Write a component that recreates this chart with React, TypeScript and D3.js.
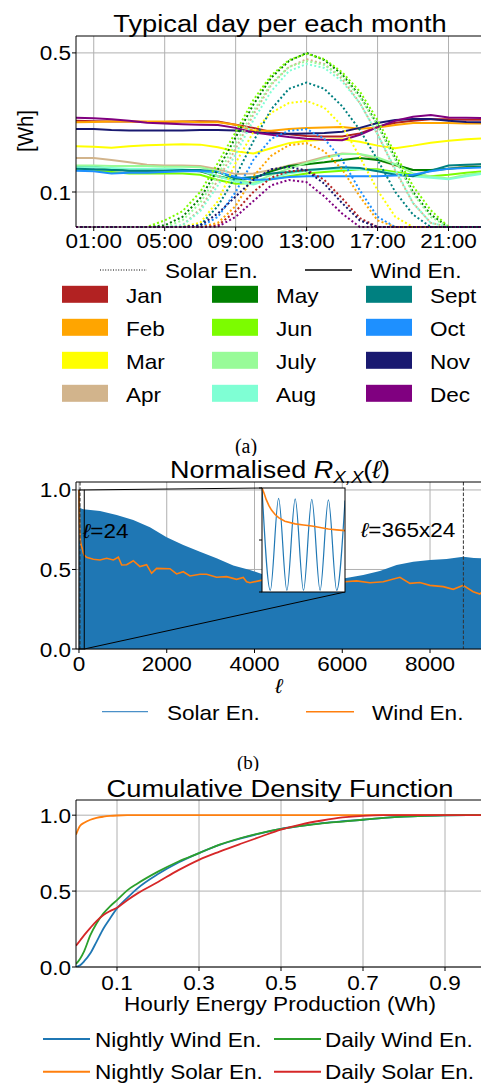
import React from 'react';
import * as d3 from 'd3';

const FONT = "'Liberation Sans', Arial, Helvetica, sans-serif";
const SX = 1.1; // the source figure is slightly stretched horizontally
const GRID = '#b0b0b0';

// ---------- (a) typical day per each month ----------
const hours = [0, 1, 2, 3, 4, 5, 6, 7, 8, 9, 10, 11, 12, 13, 14, 15, 16, 17, 18, 19, 20, 21, 22, 23];
const hourTicks = [1, 5, 9, 13, 17, 21];
const hourLabels = ['01:00', '05:00', '09:00', '13:00', '17:00', '21:00'];
const whTicks = [0.1, 0.5];

const months = ['Jan', 'Feb', 'Mar', 'Apr', 'May', 'Jun', 'July', 'Aug', 'Sept', 'Oct', 'Nov', 'Dec'];
const monthColors = ['#b22222', '#ffa500', '#ffff00', '#d2b48c', '#008000', '#7cfc00',
  '#98fb98', '#7fffd4', '#008080', '#1e90ff', '#191970', '#800080'];

const windJan = [0.228, 0.227, 0.226, 0.226, 0.225, 0.225, 0.226, 0.227, 0.226, 0.218, 0.21, 0.2, 0.195, 0.191, 0.19, 0.19, 0.197, 0.212, 0.223, 0.228, 0.232, 0.232, 0.231, 0.231];
const windFeb = [0.224, 0.225, 0.226, 0.226, 0.226, 0.226, 0.226, 0.224, 0.224, 0.218, 0.203, 0.203, 0.207, 0.21, 0.211, 0.212, 0.208, 0.211, 0.217, 0.222, 0.222, 0.222, 0.221, 0.221];
const windMar = [0.17, 0.169, 0.167, 0.17, 0.172, 0.173, 0.174, 0.173, 0.168, 0.16, 0.156, 0.166, 0.176, 0.181, 0.183, 0.184, 0.179, 0.171, 0.166, 0.171, 0.177, 0.181, 0.184, 0.186];
const windApr = [0.148, 0.148, 0.145, 0.141, 0.137, 0.136, 0.136, 0.135, 0.13, 0.123, 0.124, 0.129, 0.136, 0.142, 0.15, 0.156, 0.155, 0.145, 0.136, 0.129, 0.128, 0.131, 0.135, 0.139];
const windMay = [0.135, 0.134, 0.131, 0.128, 0.128, 0.128, 0.129, 0.127, 0.12, 0.115, 0.117, 0.127, 0.135, 0.138, 0.141, 0.145, 0.148, 0.145, 0.137, 0.129, 0.129, 0.131, 0.133, 0.134];
const windJun = [0.129, 0.128, 0.126, 0.124, 0.124, 0.124, 0.124, 0.122, 0.115, 0.11, 0.111, 0.116, 0.12, 0.124, 0.126, 0.128, 0.13, 0.13, 0.126, 0.122, 0.12, 0.122, 0.125, 0.127];
const windJul = [0.136, 0.136, 0.135, 0.135, 0.135, 0.134, 0.134, 0.133, 0.127, 0.115, 0.111, 0.122, 0.131, 0.14, 0.148, 0.155, 0.155, 0.149, 0.138, 0.124, 0.12, 0.117, 0.122, 0.125];
const windAug = [0.133, 0.133, 0.132, 0.131, 0.131, 0.131, 0.13, 0.128, 0.12, 0.113, 0.109, 0.117, 0.124, 0.128, 0.13, 0.131, 0.13, 0.128, 0.124, 0.12, 0.118, 0.116, 0.12, 0.124];
const windSep = [0.131, 0.13, 0.129, 0.128, 0.128, 0.128, 0.129, 0.129, 0.126, 0.117, 0.119, 0.124, 0.126, 0.129, 0.131, 0.133, 0.132, 0.127, 0.122, 0.12, 0.128, 0.136, 0.137, 0.138];
const windOct = [0.128, 0.127, 0.124, 0.125, 0.125, 0.126, 0.127, 0.127, 0.126, 0.119, 0.115, 0.116, 0.119, 0.12, 0.12, 0.12, 0.12, 0.12, 0.121, 0.122, 0.127, 0.131, 0.132, 0.133];
const windNov = [0.207, 0.207, 0.205, 0.204, 0.204, 0.204, 0.204, 0.205, 0.205, 0.204, 0.2, 0.197, 0.196, 0.197, 0.198, 0.201, 0.21, 0.222, 0.23, 0.233, 0.233, 0.228, 0.225, 0.224];
const windDec = [0.236, 0.235, 0.232, 0.228, 0.223, 0.221, 0.219, 0.218, 0.217, 0.21, 0.199, 0.194, 0.189, 0.185, 0.183, 0.182, 0.194, 0.212, 0.228, 0.239, 0.244, 0.237, 0.236, 0.235];

const solarJan = [0, 0, 0, 0, 0, 0, 0, 0, 0.068, 0.08, 0.1, 0.118, 0.127, 0.129, 0.115, 0.093, 0.074, 0, 0, 0, 0, 0, 0, 0];
const solarFeb = [0, 0, 0, 0, 0, 0, 0, 0, 0.07, 0.085, 0.12, 0.152, 0.172, 0.176, 0.16, 0.13, 0.095, 0.072, 0, 0, 0, 0, 0, 0];
const solarMar = [0, 0, 0, 0, 0, 0, 0, 0.07, 0.09, 0.14, 0.2, 0.25, 0.28, 0.287, 0.265, 0.215, 0.15, 0.102, 0.075, 0, 0, 0, 0, 0];
const solarApr = [0, 0, 0, 0, 0, 0, 0.068, 0.082, 0.115, 0.165, 0.245, 0.345, 0.425, 0.465, 0.44, 0.37, 0.28, 0.195, 0.128, 0.088, 0.07, 0, 0, 0];
const solarMay = [0, 0, 0, 0, 0, 0.068, 0.075, 0.093, 0.13, 0.188, 0.275, 0.375, 0.455, 0.5, 0.46, 0.39, 0.305, 0.218, 0.148, 0.1, 0.077, 0, 0, 0];
const solarJun = [0, 0, 0, 0, 0, 0.072, 0.08, 0.1, 0.14, 0.2, 0.29, 0.385, 0.46, 0.495, 0.465, 0.4, 0.32, 0.23, 0.155, 0.107, 0.081, 0, 0, 0];
const solarJul = [0, 0, 0, 0, 0, 0, 0.072, 0.088, 0.122, 0.175, 0.255, 0.35, 0.425, 0.455, 0.435, 0.38, 0.3, 0.215, 0.145, 0.098, 0.075, 0, 0, 0];
const solarAug = [0, 0, 0, 0, 0, 0, 0.068, 0.08, 0.108, 0.155, 0.23, 0.32, 0.405, 0.44, 0.42, 0.36, 0.28, 0.195, 0.13, 0.088, 0.07, 0, 0, 0];
const solarSep = [0, 0, 0, 0, 0, 0, 0, 0.068, 0.085, 0.12, 0.18, 0.26, 0.33, 0.355, 0.33, 0.27, 0.205, 0.145, 0.1, 0.077, 0, 0, 0, 0];
const solarOct = [0, 0, 0, 0, 0, 0, 0, 0, 0.075, 0.1, 0.145, 0.185, 0.203, 0.207, 0.185, 0.145, 0.102, 0.075, 0, 0, 0, 0, 0, 0];
const solarNov = [0, 0, 0, 0, 0, 0, 0, 0.068, 0.078, 0.095, 0.115, 0.13, 0.134, 0.128, 0.11, 0.088, 0.072, 0, 0, 0, 0, 0, 0, 0];
const solarDec = [0, 0, 0, 0, 0, 0, 0, 0, 0.067, 0.075, 0.09, 0.108, 0.115, 0.112, 0.095, 0.078, 0, 0, 0, 0, 0, 0, 0, 0];

const windByMonth = [windJan, windFeb, windMar, windApr, windMay, windJun, windJul, windAug, windSep, windOct, windNov, windDec];
const solarByMonth = [solarJan, solarFeb, solarMar, solarApr, solarMay, solarJun, solarJul, solarAug, solarSep, solarOct, solarNov, solarDec];

// ---------- (b) normalised autocorrelation ----------
const lagTicks = [0, 2000, 4000, 6000, 8000];
const acfTicks = [0, 0.5, 1.0];
const solarLag = [0, 10, 24, 40, 97, 479, 859, 1237, 1617, 1997, 2377, 2757, 3136, 3516, 3896, 4232, 4700, 5200, 5700, 6060, 6478, 6858, 7238, 7618, 7997, 8377, 8756, 9000, 9230];
const solarEnv = [1.0, 0.95, 0.9, 0.885, 0.879, 0.868, 0.843, 0.811, 0.765, 0.702, 0.654, 0.612, 0.57, 0.525, 0.497, 0.465, 0.455, 0.448, 0.445, 0.445, 0.465, 0.49, 0.528, 0.549, 0.56, 0.566, 0.58, 0.572, 0.57];
const windLag = [0, 3, 6, 10, 14, 19, 24, 33, 48, 60, 72, 84, 96, 108, 120, 173, 327, 479, 631, 783, 897, 973, 1087, 1237, 1389, 1541, 1655, 1769, 2073, 2225, 2377, 2529, 2757, 2909, 3136, 3364, 3592, 3744, 3820, 3896, 4232, 4700, 5200, 5700, 6060, 6326, 6630, 6934, 7314, 7542, 7769, 7997, 8301, 8529, 8756, 8984, 9136, 9230];
const windAcf = [1.0, 0.95, 0.89, 0.83, 0.785, 0.745, 0.715, 0.68, 0.655, 0.645, 0.635, 0.62, 0.605, 0.597, 0.59, 0.577, 0.564, 0.56, 0.57, 0.56, 0.577, 0.528, 0.53, 0.555, 0.518, 0.53, 0.476, 0.507, 0.505, 0.472, 0.486, 0.459, 0.47, 0.47, 0.451, 0.455, 0.438, 0.45, 0.423, 0.417, 0.436, 0.43, 0.425, 0.43, 0.423, 0.428, 0.417, 0.423, 0.451, 0.413, 0.418, 0.40, 0.392, 0.375, 0.40, 0.36, 0.346, 0.371];
const insetLag = [0, 12, 24, 36, 48, 60, 72, 84, 96, 108, 120];
const insetSolar = [1.0, 0.015, 0.9, 0.015, 0.895, 0.015, 0.89, 0.015, 0.885, 0.015, 0.88];
const markLags = [24, 8760];

// ---------- (c) cumulative density function ----------
const cdfTicksX = [0.1, 0.3, 0.5, 0.7, 0.9];
const cdfTicksY = [0, 0.5, 1.0];
const cdfX = [0, 0.01, 0.02, 0.035, 0.05, 0.067, 0.083, 0.1, 0.125, 0.15, 0.2, 0.25, 0.3, 0.35, 0.4, 0.45, 0.5, 0.55, 0.6, 0.65, 0.7, 0.75, 0.8, 0.85, 0.9, 1.0];
const cdfNightWind = [0, 0.012, 0.038, 0.09, 0.166, 0.254, 0.32, 0.386, 0.455, 0.518, 0.612, 0.688, 0.75, 0.804, 0.845, 0.88, 0.91, 0.93, 0.948, 0.96, 0.97, 0.982, 0.991, 0.996, 0.999, 1.0];
const cdfNightSolar = [0.872, 0.93, 0.95, 0.97, 0.982, 0.99, 0.995, 0.998, 1, 1, 1, 1, 1, 1, 1, 1, 1, 1, 1, 1, 1, 1, 1, 1, 1, 1];
const cdfDayWind = [0.02, 0.055, 0.105, 0.21, 0.287, 0.353, 0.4, 0.441, 0.505, 0.55, 0.628, 0.695, 0.75, 0.806, 0.848, 0.882, 0.91, 0.93, 0.946, 0.958, 0.97, 0.982, 0.991, 0.996, 0.999, 1.0];
const cdfDaySolar = [0.14, 0.175, 0.21, 0.258, 0.302, 0.342, 0.368, 0.39, 0.44, 0.485, 0.56, 0.638, 0.706, 0.76, 0.81, 0.858, 0.905, 0.94, 0.965, 0.985, 0.996, 1, 1, 1, 1, 1];
const cdfSeries = [
  { label: 'Nightly Wind En.', color: '#1f77b4', values: cdfNightWind },
  { label: 'Nightly Solar En.', color: '#ff7f0e', values: cdfNightSolar },
  { label: 'Daily Wind En.', color: '#2ca02c', values: cdfDayWind },
  { label: 'Daily Solar En.', color: '#d62728', values: cdfDaySolar },
];

const Txt = ({ x, y, anchor = 'start', size = 20.5, italic = false, family = FONT, children }: any) => (
  <text transform={`translate(${x},${y}) scale(${SX},1)`} textAnchor={anchor} fontSize={size}
    fontFamily={family} fontStyle={italic ? 'italic' : 'normal'} fill="#000">{children}</text>
);

const App = () => {
  const W = 481, H = 1083;
  const L = 76, R = 486;

  // panel a
  const aTop = 36, aBot = 227;
  const xA = d3.scaleLinear().domain([0, 23]).range([L, 484]);
  const yA = d3.scaleLog().domain([0.0667, 0.608]).range([aBot, aTop]).clamp(true);
  const lineA = d3.line<number>().x((_, i) => xA(hours[i])).y(d => yA(d));

  // panel b
  const bTop = 482, bBot = 649;
  const xB = d3.scaleLinear().domain([-68, 9230]).range([L, 484]);
  const yB = d3.scaleLinear().domain([0, 1.05]).range([bBot, bTop]);
  const areaB = d3.area<number>().x((_, i) => xB(solarLag[i])).y0(bBot).y1(d => yB(d));
  const lineWindB = d3.line<number>().x((_, i) => xB(windLag[i])).y(d => yB(d));
  const inset = { x0: 262, x1: 345, y0: 488, y1: 592 };
  const xI = d3.scaleLinear().domain([0, 120]).range([inset.x0, inset.x1]);
  const yI = d3.scaleLinear().domain([0, 1]).range([inset.y1, inset.y0]);
  const lineInsetSolar = d3.line<number>().x((_, i) => xI(insetLag[i])).y(d => yI(d)).curve(d3.curveMonotoneX);
  const insetWind = windLag.map((l, i) => [l, windAcf[i]] as [number, number]).filter(d => d[0] <= 120);
  const lineInsetWind = d3.line<[number, number]>().x(d => xI(d[0])).y(d => yI(d[1]));

  // panel c
  const cTop = 800, cBot = 967;
  const xC = d3.scaleLinear().domain([0, 1]).range([L, R]);
  const yC = d3.scaleLinear().domain([0, 1.1]).range([cBot, cTop]);
  const lineC = d3.line<number>().x((_, i) => xC(cdfX[i])).y(d => yC(d)).curve(d3.curveMonotoneX);

  const spine = (top: number, bot: number) => (
    <g stroke="#000" strokeWidth={1} fill="none">
      <line x1={L} x2={L} y1={top} y2={bot} />
      <line x1={L} x2={R} y1={top} y2={top} />
      <line x1={L} x2={R} y1={bot} y2={bot} />
    </g>
  );

  return (
    <svg width={W} height={H} style={{ position: 'absolute', left: 0, top: 0, background: '#fff' }}>
      <defs>
        <clipPath id="clipA"><rect x={L} y={aTop} width={R - L} height={aBot - aTop + 1} /></clipPath>
        <clipPath id="clipB"><rect x={L} y={bTop} width={R - L} height={bBot - bTop} /></clipPath>
        <clipPath id="clipI"><rect x={inset.x0} y={inset.y0} width={inset.x1 - inset.x0} height={inset.y1 - inset.y0} /></clipPath>
        <clipPath id="clipC"><rect x={L} y={cTop} width={R - L} height={cBot - cTop} /></clipPath>
        <clipPath id="capA"><rect x={0} y={420} width={W} height={36} /></clipPath>
        <clipPath id="capB"><rect x={0} y={740} width={W} height={31} /></clipPath>
      </defs>
      <rect width={W} height={H} fill="#fff" />

      {/* ---------- panel (a) ---------- */}
      <Txt x={280} y={31.5} anchor="middle" size={24.8}>Typical day per each month</Txt>
      <g stroke={GRID} strokeWidth={1}>
        {hourTicks.map(t => <line key={t} x1={xA(t)} x2={xA(t)} y1={aTop} y2={aBot} />)}
        {whTicks.map(t => <line key={t} x1={L} x2={R} y1={yA(t)} y2={yA(t)} />)}
      </g>
      <g clipPath="url(#clipA)" fill="none">
        {windByMonth.map((w, i) => (
          <path key={'w' + i} d={lineA(w) || ''} stroke={monthColors[i]} strokeWidth={2} />
        ))}
        {solarByMonth.map((s, i) => (
          <path key={'s' + i} d={lineA(s) || ''} stroke={monthColors[i]} strokeWidth={2} strokeDasharray="2 2.3" />
        ))}
      </g>
      {spine(aTop, aBot)}
      <g stroke="#000" strokeWidth={1}>
        {hourTicks.map(t => <line key={t} x1={xA(t)} x2={xA(t)} y1={aBot} y2={aBot + 4} />)}
        {whTicks.map(t => <line key={t} x1={L - 4} x2={L} y1={yA(t)} y2={yA(t)} />)}
      </g>
      {hourTicks.map((t, i) => <Txt key={t} x={xA(t)} y={248} anchor="middle">{hourLabels[i]}</Txt>)}
      {whTicks.map(t => <Txt key={t} x={71} y={yA(t) + 7.5} anchor="end">{String(t)}</Txt>)}
      <text transform="translate(33,131) rotate(-90) scale(1,1.1)" textAnchor="middle" fontSize={20.5} fontFamily={FONT}>[Wh]</text>

      {/* legend (a) */}
      <line x1={100} x2={147} y1={270} y2={270} stroke="#000" strokeWidth={1.2} strokeDasharray="1 1.6" />
      <Txt x={165} y={278}>Solar En.</Txt>
      <line x1={305} x2={352} y1={270} y2={270} stroke="#000" strokeWidth={1.5} />
      <Txt x={370} y={278}>Wind En.</Txt>
      {months.map((m, i) => {
        const col = Math.floor(i / 4), row = i % 4;
        const px = [62, 212, 366][col], tx = [126, 276, 430][col];
        const cy = 294.3 + row * 33;
        return (
          <g key={m}>
            <rect x={px} y={cy - 8.5} width={46} height={17} fill={monthColors[i]} />
            <Txt x={tx} y={cy + 8.5}>{m}</Txt>
          </g>
        );
      })}
      <g clipPath="url(#capA)">
        <text x={246} y={453} textAnchor="middle" fontSize={20} fontFamily="'Liberation Serif', 'DejaVu Serif', serif">(a)</text>
      </g>

      {/* ---------- panel (b) ---------- */}
      <text transform="translate(280,478) scale(1.1,1)" textAnchor="middle" fontSize={24.5} fontFamily={FONT}>
        {'Normalised '}<tspan fontStyle="italic">R</tspan><tspan fontStyle="italic" fontSize={17} dy={5}>X,X</tspan><tspan dy={-5}>(</tspan><tspan fontStyle="italic">ℓ</tspan>)
      </text>
      <g stroke={GRID} strokeWidth={1}>
        {lagTicks.map(t => <line key={t} x1={xB(t)} x2={xB(t)} y1={bTop} y2={bBot} />)}
        {acfTicks.map(t => <line key={t} x1={L} x2={R} y1={yB(t)} y2={yB(t)} />)}
      </g>
      <g clipPath="url(#clipB)">
        <path d={areaB(solarEnv) || ''} fill="#1f77b4" />
        <path d={lineWindB(windAcf) || ''} fill="none" stroke="#ff7f0e" strokeWidth={1.6} />
        {markLags.map(l => (
          <line key={l} x1={xB(l)} x2={xB(l)} y1={bTop} y2={bBot} stroke="#333" strokeWidth={1} strokeDasharray="3.5 1.8" />
        ))}
      </g>
      {/* zoom indicator and connectors */}
      <g stroke="#000" strokeWidth={1} fill="none">
        <rect x={xB(0)} y={yB(1)} width={xB(120) - xB(0)} height={yB(0) - yB(1)} />
        <line x1={xB(120)} y1={yB(1)} x2={inset.x0} y2={inset.y0} />
        <line x1={xB(120)} y1={yB(0)} x2={inset.x1} y2={inset.y1} />
      </g>
      <rect x={inset.x0} y={inset.y0} width={inset.x1 - inset.x0} height={inset.y1 - inset.y0} fill="#fff" />
      <g clipPath="url(#clipI)" fill="none">
        <path d={lineInsetSolar(insetSolar) || ''} stroke="#1f77b4" strokeWidth={1.2} />
        <path d={lineInsetWind(insetWind) || ''} stroke="#ff7f0e" strokeWidth={1.6} />
      </g>
      <rect x={inset.x0} y={inset.y0} width={inset.x1 - inset.x0} height={inset.y1 - inset.y0} fill="none" stroke="#000" strokeWidth={1} />
      <g stroke="#000" strokeWidth={1}>
        {acfTicks.map(t => <line key={t} x1={inset.x0 - 3} x2={inset.x0} y1={yI(t)} y2={yI(t)} />)}
      </g>
      <Txt x={83} y={538}><tspan fontStyle="italic">ℓ</tspan>=24</Txt>
      <Txt x={361} y={537}><tspan fontStyle="italic">ℓ</tspan>=365x24</Txt>
      {spine(bTop, bBot)}
      <g stroke="#000" strokeWidth={1}>
        {lagTicks.map(t => <line key={t} x1={xB(t)} x2={xB(t)} y1={bBot} y2={bBot + 4} />)}
        {acfTicks.map(t => <line key={t} x1={L - 4} x2={L} y1={yB(t)} y2={yB(t)} />)}
      </g>
      {lagTicks.map(t => <Txt key={t} x={xB(t)} y={671} anchor="middle">{String(t)}</Txt>)}
      {acfTicks.map(t => <Txt key={t} x={71} y={yB(t) + 7.5} anchor="end">{t.toFixed(1)}</Txt>)}
      <Txt x={279} y={693} anchor="middle" italic>ℓ</Txt>
      {/* legend (b) */}
      <line x1={102} x2={148} y1={711.7} y2={711.7} stroke="#4a90c8" strokeWidth={1.2} />
      <Txt x={167} y={720}>Solar En.</Txt>
      <line x1={306} x2={354} y1={711.7} y2={711.7} stroke="#ff7f0e" strokeWidth={1.5} />
      <Txt x={372} y={720}>Wind En.</Txt>
      <g clipPath="url(#capB)">
        <text x={248} y={769} textAnchor="middle" fontSize={19} fontFamily="'Liberation Serif', 'DejaVu Serif', serif">(b)</text>
      </g>

      {/* ---------- panel (c) ---------- */}
      <Txt x={280} y={796.5} anchor="middle" size={24.8}>Cumulative Density Function</Txt>
      <g stroke={GRID} strokeWidth={1}>
        {cdfTicksX.map(t => <line key={t} x1={xC(t)} x2={xC(t)} y1={cTop} y2={cBot} />)}
        {cdfTicksY.map(t => <line key={t} x1={L} x2={R} y1={yC(t)} y2={yC(t)} />)}
      </g>
      <g clipPath="url(#clipC)" fill="none">
        {cdfSeries.map(s => (
          <path key={s.label} d={lineC(s.values) || ''} stroke={s.color} strokeWidth={1.8} />
        ))}
      </g>
      {spine(cTop, cBot)}
      <g stroke="#000" strokeWidth={1}>
        {cdfTicksX.map(t => <line key={t} x1={xC(t)} x2={xC(t)} y1={cBot} y2={cBot + 4} />)}
        {cdfTicksY.map(t => <line key={t} x1={L - 4} x2={L} y1={yC(t)} y2={yC(t)} />)}
      </g>
      {cdfTicksX.map(t => <Txt key={t} x={xC(t)} y={990} anchor="middle">{String(t)}</Txt>)}
      {cdfTicksY.map(t => <Txt key={t} x={71} y={yC(t) + 7.5} anchor="end">{t.toFixed(1)}</Txt>)}
      <Txt x={280} y={1011} anchor="middle">Hourly Energy Production (Wh)</Txt>
      {cdfSeries.map((s, i) => {
        const col = Math.floor(i / 2), row = i % 2;
        const lx = [43, 274][col], tx = [95, 325][col];
        const cy = 1039 + row * 32.7;
        return (
          <g key={s.label}>
            <line x1={lx} x2={lx + 47} y1={cy} y2={cy} stroke={s.color} strokeWidth={2} />
            <Txt x={tx} y={cy + 7.7}>{s.label}</Txt>
          </g>
        );
      })}
    </svg>
  );
};

export default App;
